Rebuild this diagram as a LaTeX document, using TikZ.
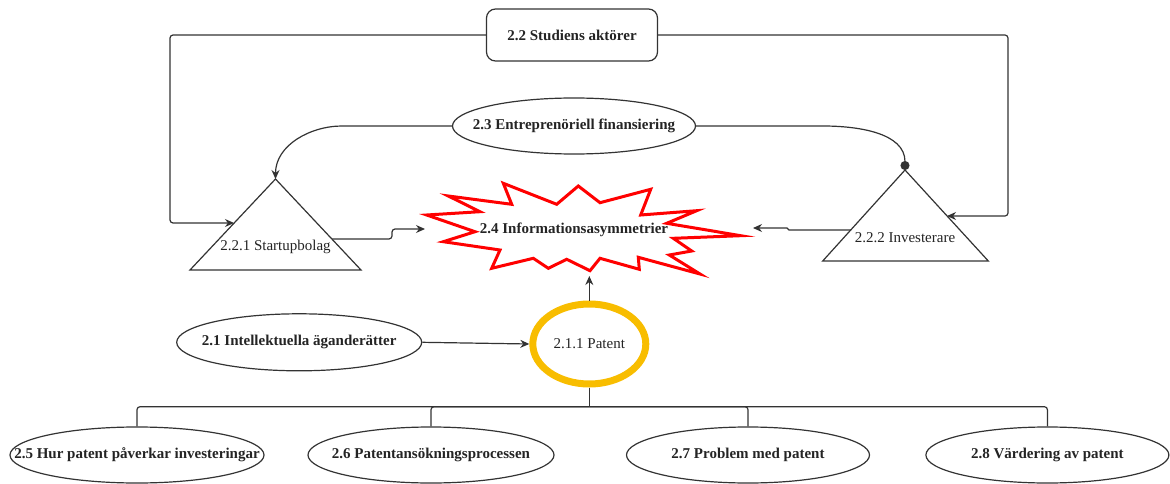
\documentclass[tikz,border=0pt]{standalone}
\usepackage{fontspec}
\setmainfont{Liberation Serif}
\usetikzlibrary{arrows.meta,shapes.geometric}
\definecolor{ink}{RGB}{51,51,51}
\definecolor{amber}{RGB}{248,189,0}
\tikzset{
  txt/.style={font=\fontsize{15}{18}\selectfont, text=ink!70!black, inner sep=0pt},
  bold/.style={txt, font=\fontsize{15}{18}\selectfont\bfseries},
  oval/.style={draw=ink, ellipse, line width=1.2pt, inner sep=0pt},
  tri/.style={draw=ink, line width=1.2pt, line join=miter},
  wire/.style={draw=ink, line width=1.2pt, rounded corners=3pt},
  link/.style={wire, -{Stealth[length=9pt,width=8pt]}},
}
\begin{document}
\begin{tikzpicture}[x=1pt,y=-1pt]
\useasboundingbox (0,0) rectangle (1170,484);

\node[draw=ink, line width=1.2pt, rounded corners=9pt, minimum width=171pt, minimum height=52pt, bold] (aktor) at (572,35) {2.2 Studiens aktörer};
\node[oval, minimum width=243pt, minimum height=56pt, label={[bold]center:2.3 Entreprenöriell finansiering}] (finans) at (574,126) {};

\coordinate (startTop) at (275.5,179);
\coordinate (startL) at (234,223);
\coordinate (startR) at (332,239);
\draw[tri] (190,270) -- (startTop) -- (361,270) -- cycle;
\node[txt] (startup) at (275.5,247) {2.2.1 Startupbolag};

\coordinate (invTop) at (905,170);
\coordinate (invR) at (947,216);
\coordinate (invL) at (851,230);
\draw[tri] (822.7,261) -- (invTop) -- (988.3,261) -- cycle;
\node[txt] (investor) at (905,238) {2.2.2 Investerare};

\draw[draw=red, line width=3pt, line join=miter, fill=white]
  (426.7,215) -- (480,211.7) -- (448.3,196) -- (511.7,204.3) -- (503.3,183.3)
  -- (556.7,204.3) -- (578.3,186) -- (600,202.7) -- (650.7,189.3) -- (640.7,215)
  -- (696.7,210.7) -- (666.7,223.3) -- (740.7,235.7) -- (673.3,238.3) -- (691.7,251)
  -- (669.3,255) -- (700,274) -- (638.3,257.3) -- (639.3,269.3) -- (600,258.3)
  -- (590,270.7) -- (566.7,259.3) -- (548.3,268.3) -- (533.3,258.3) -- (491.7,268.3)
  -- (500,250) -- (443.3,241.7) -- (475,231.7) -- cycle;
\node[bold] (burst) at (574,230) {2.4 Informationsasymmetrier};
\coordinate (burstL) at (425,229);
\coordinate (burstR) at (753,228);
\coordinate (burstB) at (589.3,276);

\draw[link] (aktor.west) -| (170,223) -- (startL);
\draw[link] (aktor.east) -| (1008,216) -- (invR);
\draw[link] (finans.west) -- (345,126) to[out=180,in=90] (startTop);
\draw[wire, -{Circle[length=9pt]}] (finans.east) -- (820,126) to[out=0,in=90] (invTop);
\draw[link] (startR) -- (392,239) -- (392,229) -- (burstL);
\draw[link, rounded corners=1pt] (invL) -- (788,230) -- (788,228) -- (burstR);

\node[oval, minimum width=245pt, minimum height=57pt, label={[bold]center:2.1 Intellektuella äganderätter}] (ipr) at (299.2,342.3) {};
\node[ellipse, draw=amber, line width=7pt, minimum width=113pt, minimum height=80pt, txt] (patent) at (589.3,344) {2.1.1 Patent};
\draw[link] (ipr.east) -- (patent.west);
\draw[link] (patent.north) -- (burstB);

\node[oval, minimum width=254pt, minimum height=56pt, label={[bold]center:2.5 Hur patent påverkar investeringar}] (p25) at (137,455) {};
\node[oval, minimum width=246pt, minimum height=56pt, label={[bold]center:2.6 Patentansökningsprocessen}] (p26) at (431,455) {};
\node[oval, minimum width=243pt, minimum height=56pt, label={[bold]center:2.7 Problem med patent}] (p27) at (748,455) {};
\node[oval, minimum width=243pt, minimum height=56pt, label={[bold]center:2.8 Värdering av patent}] (p28) at (1047.4,455) {};
\coordinate (hub) at (589.3,406.7);
\draw[wire] (patent.south) -- (hub);
\foreach \n in {p25,p26,p27,p28}
  \draw[wire] (hub) -| (\n.north);

\end{tikzpicture}
\end{document}
